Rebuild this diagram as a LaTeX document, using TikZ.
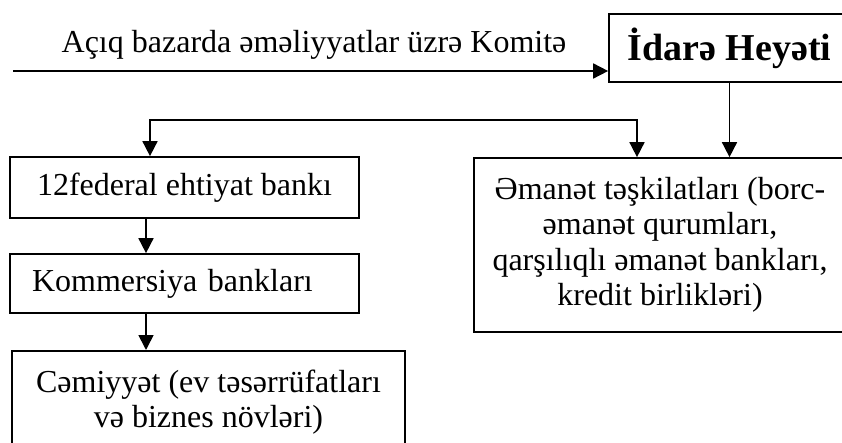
\documentclass[tikz,border=0pt]{standalone}
\usepackage{fontspec}
\setmainfont{Liberation Serif}
\usetikzlibrary{arrows.meta}
\tikzset{
  box/.style={draw, line width=1.7pt, inner sep=0pt, font=\fontsize{32}{35.5}\selectfont},
  arr/.style={line width=1.7pt, -{Triangle[length=15pt,width=15pt]}},
  barr/.style={line width=1.7pt, {Triangle[length=15pt,width=15pt]}-{Triangle[length=15pt,width=15pt]}},
  lbl/.style={font=\fontsize{32}{35.5}\selectfont, inner sep=0pt}
}
\begin{document}
\begin{tikzpicture}[x=1pt,y=-1pt]
\useasboundingbox (0,0) rectangle (842,443);
\clip (0,0) rectangle (842,443);
% nodes
\node[box, minimum width=241pt, minimum height=68pt, font=\fontsize{38}{42}\selectfont\bfseries] (idare) at (729.5,48) {İdarə Heyəti};
\node[lbl, anchor=base] (komite) at (314,53) {Açıq bazarda əməliyyatlar üzrə Komitə};
\node[box, minimum width=349pt, minimum height=61pt] (fed) at (184.5,187.5) {12federal ehtiyat bankı};
\node[box, minimum width=349pt, minimum height=59pt, inner xsep=22pt, text width=305pt, align=left] (komm) at (184.5,283.5) {Kommersiya bankları};
\node[box, anchor=north, minimum width=393pt, inner ysep=19pt, align=center] (cem) at (208.5,350) {Cəmiyyət (ev təsərrüfatları\\və biznes növləri)};
\node[box, minimum width=372pt, minimum height=174pt, align=center] (eman) at (660,245) {Əmanət təşkilatları (borc-\\əmanət qurumları,\\qarşılıqlı əmanət bankları,\\kredit birlikləri)};
% coordinates
\coordinate (start) at (13,71);
\coordinate (bl) at (150,120);
\coordinate (brr) at (637,120);
\coordinate (fk) at (146,0);
% connectors
\draw[arr] (start) -- (start -| idare.west);
\draw[arr] (idare.south) -- (idare.south |- eman.north);
\draw[barr] (bl |- fed.north) -- (bl) -- (brr) -- (brr |- eman.north);
\draw[arr] (fk |- fed.south) -- (fk |- komm.north);
\draw[arr] (fk |- komm.south) -- (fk |- cem.north);
\end{tikzpicture}
\end{document}
